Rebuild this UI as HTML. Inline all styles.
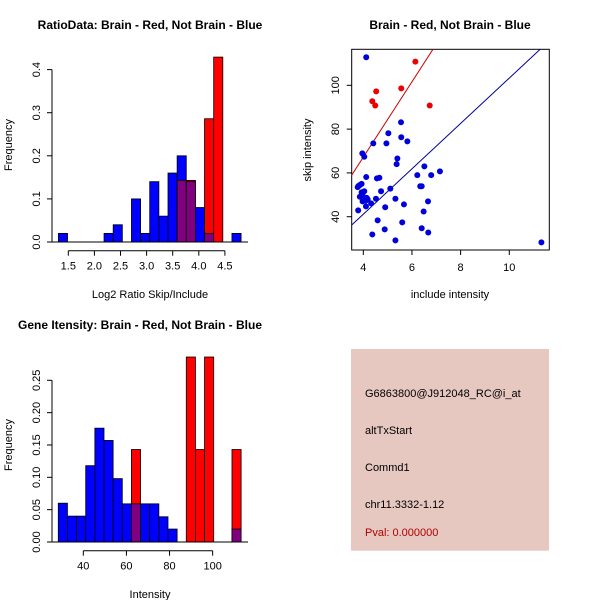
<!DOCTYPE html>
<html><head><meta charset="utf-8">
<style>
html,body{margin:0;padding:0;background:#fff;}
svg{display:block;font-family:"Liberation Sans",sans-serif;}
</style></head>
<body>
<svg id="c" width="600" height="600" viewBox="0 0 600 600">
<rect width="600" height="600" fill="#fff"/>
<g id="p1">
<text x="150" y="29" text-anchor="middle" font-size="12" font-weight="bold">RatioData: Brain - Red, Not Brain - Blue</text>
<text x="150" y="298" text-anchor="middle" font-size="11">Log2 Ratio Skip/Include</text>
<text transform="translate(12,145) rotate(-90)" text-anchor="middle" font-size="11">Frequency</text>
</g>
<g id="p2">
<text x="450" y="29" text-anchor="middle" font-size="12" font-weight="bold">Brain - Red, Not Brain - Blue</text>
<text x="450" y="298" text-anchor="middle" font-size="11">include intensity</text>
<text transform="translate(311,150) rotate(-90)" text-anchor="middle" font-size="11">skip intensity</text>
<rect x="351.7" y="49.3" width="197.6" height="200.7" fill="none" stroke="#000"/>
</g>
<g id="p3">
<text x="140" y="329" text-anchor="middle" font-size="12" font-weight="bold">Gene Itensity: Brain - Red, Not Brain - Blue</text>
<text x="150" y="598" text-anchor="middle" font-size="11">Intensity</text>
<text transform="translate(12,445) rotate(-90)" text-anchor="middle" font-size="11">Frequency</text>
</g>
<g id="p4">
<rect x="351" y="349" width="198" height="201.7" fill="#e6c8c1"/>
<text x="365" y="397" font-size="11">G6863800@J912048_RC@i_at</text>
<text x="365" y="434" font-size="11">altTxStart</text>
<text x="365" y="471" font-size="11">Commd1</text>
<text x="365" y="508" font-size="11">chr11.3332-1.12</text>
<text x="365" y="536" font-size="11" fill="#b00000">Pval: 0.000000</text>
</g>
</svg>
<script>
// ---- Ratio histogram data ----
const ratioBreakStart = 1.31;
const ratioBinWidth = 0.175;
const ratioBlue = [0.02,0,0,0,0,0.02,0.04,0,0.1,0.02,0.14,0.06,0.16,0.2,0.14,0.08,0.02,0,0,0.02];
const ratioRed  = [0,0,0,0,0,0,0,0,0,0,0,0,0,0.143,0.143,0,0.286,0.429,0,0];
const ratioXTicks = [1.5,2.0,2.5,3.0,3.5,4.0,4.5];
const ratioYTicks = [0.0,0.1,0.2,0.3,0.4];
// ---- Intensity histogram data ----
const intBreakStart = 28.4;
const intBinWidth = 4.24;
const intBlue = [0.06,0.04,0.04,0.118,0.176,0.157,0.098,0.059,0.059,0.059,0.059,0.039,0.02,0,0,0,0,0,0,0.02];
const intRed  = [0,0,0,0,0,0,0,0,0.143,0,0,0,0,0,0.286,0.143,0.286,0,0,0.143];
const intXTicks = [40,60,80,100];
const intYTicks = [0.00,0.05,0.10,0.15,0.20,0.25];
// ---- Scatter data ----
const redX = [4.37,4.53,4.49,5.56,6.14,6.73];
const redY = [92.7,97.2,90.8,98.6,110.8,90.8];
const blueX = [4.12,5.55,5.03,5.56,5.81,4.41,4.95,3.96,4.04,5.40,5.37,6.51,7.15,6.79,6.22,4.12,4.66,4.56,3.93,3.86,3.80,3.77,5.11,6.34,6.40,4.73,3.93,4.04,3.86,4.14,4.00,3.95,4.52,5.32,4.18,4.10,3.97,4.32,5.67,6.66,4.11,4.90,6.48,3.79,4.59,5.60,6.40,4.88,6.67,4.37,5.32,11.32];
const blueY = [112.8,83.1,78.1,76.3,74.4,73.5,73.5,68.9,67.4,66.6,64.0,63.0,60.7,59.0,59.0,58.1,57.8,57.5,55.0,54.5,54.0,53.5,52.8,53.9,53.9,51.6,51.1,51.6,49.1,48.6,49.1,50.0,48.2,48.2,47.9,47.4,47.0,46.1,45.6,47.0,44.7,44.3,42.4,42.9,38.3,37.4,34.7,34.2,32.8,31.9,29.2,28.3];
const redLine = [-1.6, 17.2];   // intercept, slope
const blueLine = [-0.3, 10.36];
const xScatterTicks = [4,6,8,10];
const yScatterTicks = [40,60,80,100];

const NS = "http://www.w3.org/2000/svg";
const svg = document.getElementById('c');
function mk(tag, attrs, parent){
  const e = document.createElementNS(NS, tag);
  for (const k in attrs) e.setAttribute(k, attrs[k]);
  (parent||svg).appendChild(e);
  return e;
}

function histogram(gid, start, w, blue, red, xTicks, yTicks, sx, sy, tickY, yFmt, xFmt, prefix){
  const g = document.getElementById(gid);
  const y0 = sy(0);
  for (let i=0;i<blue.length;i++){
    const x0 = sx(start+i*w), x1 = sx(start+(i+1)*w);
    const b = blue[i], r = red[i], m = Math.min(b,r);
    const hi = Math.max(b,r);
    if (hi<=0) continue;
    const col = b>=r ? '#0000ff' : '#ff0000';
    const el = mk('rect',{x:x0,y:sy(hi),width:x1-x0,height:y0-sy(hi),fill:col,stroke:'#000','stroke-width':0.8},g);
    
    
    if (m>0){
      const o = mk('rect',{x:x0,y:sy(m),width:x1-x0,height:y0-sy(m),fill:'#800080',stroke:'#000','stroke-width':0.8},g);
      
      
    }
  }
  const base = mk('line',{x1:50,x2:248,y1:y0,y2:y0,stroke:'#000'},g);
  
  
  const xa = mk('line',{x1:sx(xTicks[0]),x2:sx(xTicks[xTicks.length-1]),y1:tickY,y2:tickY,stroke:'#000'},g);
  
  
  xTicks.forEach(t=>{
    mk('line',{x1:sx(t),x2:sx(t),y1:tickY,y2:tickY+5,stroke:'#000'},g);
    const tx = mk('text',{x:sx(t),y:tickY+19,'text-anchor':'middle','font-size':11},g);
    tx.textContent = xFmt(t);
    
    
  });
  const ya = mk('line',{x1:52,x2:52,y1:sy(yTicks[0]),y2:sy(yTicks[yTicks.length-1]),stroke:'#000'},g);
  
  
  yTicks.forEach(t=>{
    mk('line',{x1:47,x2:52,y1:sy(t),y2:sy(t),stroke:'#000'},g);
    const tx = mk('text',{transform:`translate(40,${sy(t)}) rotate(-90)`,'text-anchor':'middle','font-size':11},g);
    tx.textContent = yFmt(t);
    
    
  });
}

histogram('p1', ratioBreakStart, ratioBinWidth, ratioBlue, ratioRed, ratioXTicks, ratioYTicks,
  v=>68.3+(v-1.5)*52.2, v=>242-v*431, 250.7, t=>t.toFixed(1), t=>t.toFixed(1), 'ratio');
histogram('p3', intBreakStart, intBinWidth, intBlue, intRed, intXTicks, intYTicks,
  v=>83.3+(v-40)*2.156, v=>542-v*646.8, 550.7, t=>t.toFixed(2), t=>String(t), 'intensity');

// scatter
(function(){
  const g = document.getElementById('p2');
  const sx = v=>363.3+(v-4)*24.33;
  const sy = v=>216.7-(v-40)*2.19;
  const cp = mk('clipPath',{id:'sc'},g);
  mk('rect',{x:351.7,y:49.3,width:197.6,height:200.7},cp);
  [[redLine,'#cc0000','red-fit-line'],[blueLine,'#000099','blue-fit-line']].forEach(([l,c,n])=>{
    const xa=3.0, xb=12;
    const ln = mk('line',{x1:sx(xa),y1:sy(l[0]+l[1]*xa),x2:sx(xb),y2:sy(l[0]+l[1]*xb),stroke:c,'stroke-width':1,'clip-path':'url(#sc)'},g);
    
    
  });
  blueX.forEach((x,i)=>{
    const c = mk('circle',{cx:sx(x),cy:sy(blueY[i]),r:3,fill:'#0000dd'},g);
    
    
  });
  redX.forEach((x,i)=>{
    const c = mk('circle',{cx:sx(x),cy:sy(redY[i]),r:3,fill:'#ee0000'},g);
    
    
  });
  xScatterTicks.forEach(t=>{
    mk('line',{x1:sx(t),x2:sx(t),y1:250,y2:255,stroke:'#000'},g);
    const tx = mk('text',{x:sx(t),y:271,'text-anchor':'middle','font-size':11},g);
    tx.textContent = t;
    
    
  });
  yScatterTicks.forEach(t=>{
    mk('line',{x1:346.7,x2:351.7,y1:sy(t),y2:sy(t),stroke:'#000'},g);
    const tx = mk('text',{transform:`translate(339,${sy(t)}) rotate(-90)`,'text-anchor':'middle','font-size':11},g);
    tx.textContent = t;
    
    
  });
})();
</script>
</body></html>
